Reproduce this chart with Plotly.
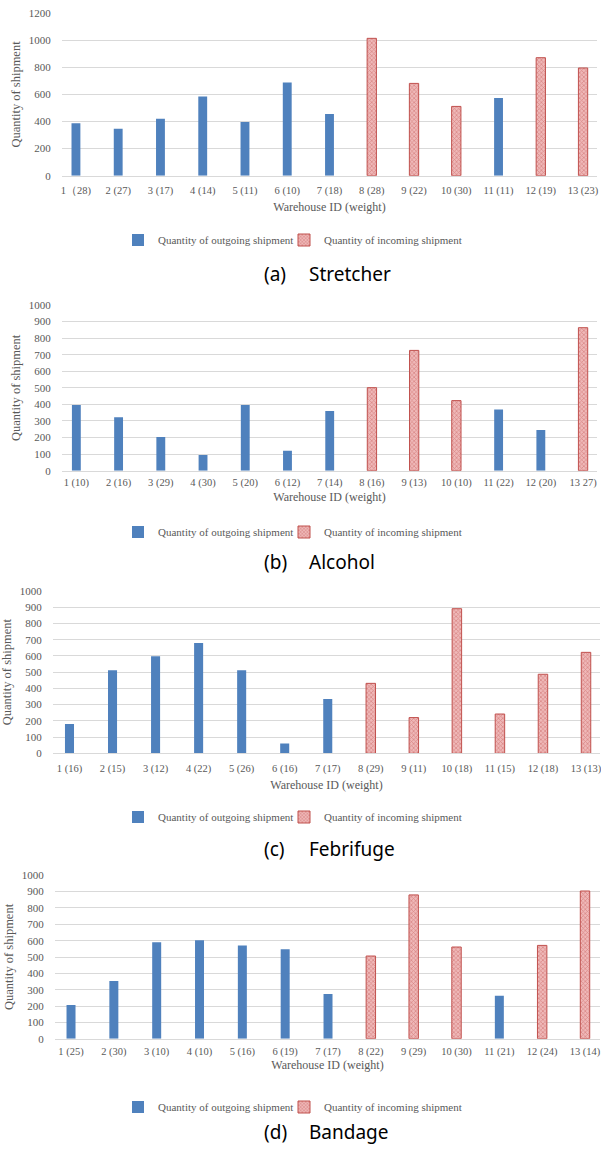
import plotly.graph_objects as go

# ---- data -------------------------------------------------------------
labels_a = ["1（28)", "2 (27)", "3 (17)", "4 (14)", "5 (11)", "6 (10)", "7 (18)",
            "8 (28)", "9 (22)", "10 (30)", "11 (11)", "12 (19)", "13 (23)"]
out_a = [387, 347, 421, 586, 397, 688, 456, None, None, None, 574, None, None]
in_a = [None, None, None, None, None, None, None, 1015, 682, 512, None, 872, 796]

labels_b = ["1 (10)", "2 (16)", "3 (29)", "4 (30)", "5 (20)", "6 (12)", "7 (14)",
            "8 (16)", "9 (13)", "10 (10)", "11 (22)", "12 (20)", "13 27)"]
out_b = [396, 322, 203, 95, 396, 121, 360, None, None, None, 370, 245, None]
in_b = [None, None, None, None, None, None, None, 501, 726, 423, None, None, 863]

labels_c = ["1 (16)", "2 (15)", "3 (12)", "4 (22)", "5 (26)", "6 (16)", "7 (17)",
            "8 (29)", "9 (11)", "10 (18)", "11 (15)", "12 (18)", "13 (13)"]
out_c = [181, 511, 598, 680, 511, 60, 335, None, None, None, None, None, None]
in_c = [None, None, None, None, None, None, None, 431, 220, 891, 242, 487, 622]

labels_d = ["1 (25)", "2 (30)", "3 (10)", "4 (10)", "5 (16)", "6 (19)", "7 (17)",
            "8 (22)", "9 (29)", "10 (30)", "11 (21)", "12 (24)", "13 (14)"]
out_d = [206, 353, 590, 602, 571, 547, 273, None, None, None, 263, None, None]
in_d = [None, None, None, None, None, None, None, 506, 880, 561, None, 571, 904]

captions = [("(a)", "Stretcher"), ("(b)", "Alcohol"), ("(c)", "Febrifuge"), ("(d)", "Bandage")]
series_names = ["Quantity of outgoing shipment", "Quantity of incoming shipment"]

# ---- layout helpers (pixel geometry of a 601 x 1150 page) -------------
W, H = 601, 1150


def px_x(v):
    return v / W


def px_y(v):
    return 1 - v / H


# per panel: x domain (px), y domain bottom/top (px), y max, y step, x range,
# tick label offset, axis-title standoff, legend y (px), caption y (px)
panels = [
    dict(lab=labels_a, out=out_a, inc=in_a, xd=(62, 597), yd=(175.7, 13.3), ymax=1200, dt=200,
         xr=(-0.33, 12.33), tl=5, so=6, leg=240, cap=274),
    dict(lab=labels_b, out=out_b, inc=in_b, xd=(62, 597), yd=(470.7, 305.0), ymax=1000, dt=100,
         xr=(-0.34, 12.33), tl=2, so=4, leg=532, cap=562),
    dict(lab=labels_c, out=out_c, inc=in_c, xd=(53, 600), yd=(753.3, 591.0), ymax=1000, dt=100,
         xr=(-0.383, 12.325), tl=5, so=6, leg=817, cap=849),
    dict(lab=labels_d, out=out_d, inc=in_d, xd=(55, 600), yd=(1038.7, 875.3), ymax=1000, dt=100,
         xr=(-0.374, 12.35), tl=3, so=2, leg=1107, cap=1132),
]

# legend text starts (px) for the two series
LEG_TEXT_X = (158, 324)

BLUE = "#4f81bd"
RED = "#c0504d"
PINK = "#efb8b8"
GREY_TXT = "#595959"
GRID = "#d9d9d9"
SERIF = "Liberation Serif, Times New Roman, serif"
SANS = "Noto Sans, Open Sans, sans-serif"

fig = go.Figure()
layout = dict(
    width=W, height=H, margin=dict(l=0, r=0, t=0, b=0, autoexpand=False),
    paper_bgcolor="white", plot_bgcolor="white", showlegend=True,
    barmode="overlay", annotations=[],
    font=dict(family=SERIF, color=GREY_TXT, size=11),
)

for i, p in enumerate(panels):
    k = "" if i == 0 else str(i + 1)
    xa, ya = "x" + k, "y" + k
    leg_out = "legend" if i == 0 else "legend" + str(2 * i + 1)
    leg_in = "legend" + str(2 * i + 2)

    fig.add_trace(go.Bar(
        x=p["lab"], y=p["out"], name=series_names[0], xaxis=xa, yaxis=ya,
        marker=dict(color=BLUE, line=dict(width=0)), width=0.21,
        legend=leg_out, showlegend=True,
    ))
    fig.add_trace(go.Bar(
        x=p["lab"], y=p["inc"], name=series_names[1], xaxis=xa, yaxis=ya,
        marker=dict(color=PINK, line=dict(color=RED, width=1),
                    pattern=dict(shape="x", fgcolor=RED, bgcolor=PINK, size=3, solidity=0.4)),
        width=0.22, legend=leg_in, showlegend=True,
    ))

    layout["xaxis" + k] = dict(
        domain=[px_x(p["xd"][0]), px_x(p["xd"][1])], anchor=ya,
        type="category", range=list(p["xr"]), automargin=False,
        showgrid=False, showline=True, linecolor=GRID, linewidth=1,
        ticks="outside", ticklen=p["tl"], tickcolor="rgba(0,0,0,0)",
        tickfont=dict(family=SERIF, size=10.5, color=GREY_TXT), tickangle=0,
        title=dict(text="Warehouse ID (weight)", standoff=p["so"],
                   font=dict(family=SERIF, size=12, color=GREY_TXT)),
        fixedrange=True,
    )
    layout["yaxis" + k] = dict(
        domain=[px_y(p["yd"][0]), px_y(p["yd"][1])], anchor=xa,
        range=[0, p["ymax"]], dtick=p["dt"], tick0=0, automargin=False,
        showgrid=True, gridcolor=GRID, gridwidth=1, zeroline=False, showline=False,
        ticks="outside", ticklen=8, tickcolor="rgba(0,0,0,0)",
        tickfont=dict(family=SERIF, size=11, color=GREY_TXT),
        title=dict(text="Quantity of shipment", standoff=5,
                   font=dict(family=SERIF, size=12.5, color=GREY_TXT)),
        fixedrange=True,
    )
    for leg, tx in zip((leg_out, leg_in), LEG_TEXT_X):
        layout[leg] = dict(
            orientation="h", x=px_x(tx - 40), xanchor="left",
            y=px_y(p["leg"]), yanchor="middle",
            font=dict(family=SERIF, size=11, color=GREY_TXT),
            bgcolor="rgba(0,0,0,0)", itemwidth=30, visible=True,
        )

    tag, name = captions[i]
    layout["annotations"].append(dict(
        x=px_x(262), y=px_y(p["cap"]), xref="paper", yref="paper",
        xanchor="left", yanchor="middle", text=tag, showarrow=False,
        font=dict(family=SANS, size=19, color="black"),
    ))
    layout["annotations"].append(dict(
        x=px_x(307), y=px_y(p["cap"]), xref="paper", yref="paper",
        xanchor="left", yanchor="middle", text=name, showarrow=False,
        font=dict(family=SANS, size=19, color="black"),
    ))

fig.update_layout(**layout)
fig.write_html("out.html")
